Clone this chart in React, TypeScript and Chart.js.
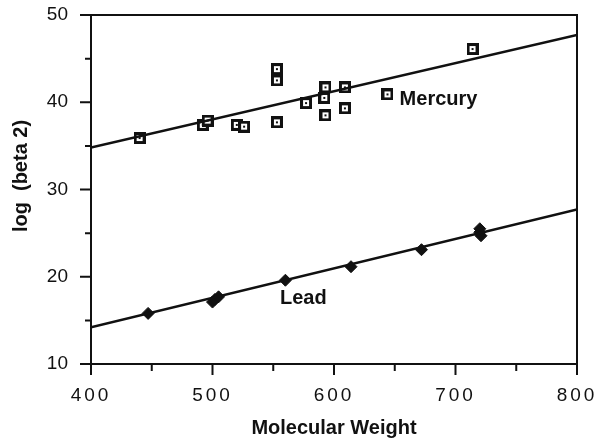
import { useEffect, useRef } from "react";
import { Chart, registerables, LinearScale } from "chart.js";

Chart.register(...registerables);

class SpacedLinearScale extends LinearScale {
  static id = "spacedLinear";
  static defaults = LinearScale.defaults;
  drawLabels(area: any) {
    const ctx: any = this.ctx;
    const prev = ctx.letterSpacing;
    ctx.letterSpacing = "3px";
    super.drawLabels(area);
    ctx.letterSpacing = prev || "0px";
  }
}
Chart.register(SpacedLinearScale as any);

// Mercury complexes
const mercuryMW = [440, 492, 496, 520, 526, 553, 553, 553, 577, 592, 593, 593, 609, 609, 644, 714];
const mercuryLogBeta2 = [35.9, 37.4, 37.9, 37.4, 37.2, 43.8, 42.5, 37.7, 39.9, 40.5, 41.7, 38.5, 41.7, 39.3, 40.9, 46.1];

// Lead complexes
const leadMW = [447, 500, 502, 505, 560, 614, 672, 720, 720, 721];
const leadLogBeta2 = [15.8, 17.1, 17.4, 17.7, 19.6, 21.15, 23.1, 25.5, 25.1, 24.7];

// Fitted lines (end points)
const fitMW = [400, 800];
const mercuryFit = [34.8, 47.7];
const leadFit = [14.2, 27.7];

// Axis ticks
const xMajorTicks = [400, 500, 600, 700, 800];
const xMinorTicks = [450, 550, 650, 750];
const yMajorTicks = [10, 20, 30, 40, 50];
const yMinorTicks = [15, 25, 35, 45];

// Texts
const xTitle = "Molecular Weight";
const yTitle = "log  (beta 2)";
const seriesLabels = [
  { text: "Mercury", x: 654, y: 40.3 },
  { text: "Lead", x: 555.5, y: 17.5 },
];

const FONT = "'Liberation Sans', Arial, Helvetica, sans-serif";
const INK = "#111";

function makeMercuryMarker(): HTMLCanvasElement {
  const c = document.createElement("canvas");
  c.width = 12;
  c.height = 12;
  const g = c.getContext("2d")!;
  g.fillStyle = INK;
  g.fillRect(0, 0, 12, 12);
  g.fillStyle = "#fff";
  g.fillRect(3, 3, 6, 6);
  g.fillStyle = INK;
  g.fillRect(5, 5, 2, 2);
  return c;
}

const framePlugin = {
  id: "frameAndTicks",
  beforeDatasetsDraw(chart: any) {
    const { ctx, chartArea } = chart;
    const xs = chart.scales.x;
    const ys = chart.scales.y;
    ctx.save();
    ctx.strokeStyle = INK;
    ctx.lineWidth = 2;
    ctx.strokeRect(chartArea.left, chartArea.top, chartArea.right - chartArea.left, chartArea.bottom - chartArea.top);
    ctx.beginPath();
    for (const v of xMajorTicks) {
      const px = xs.getPixelForValue(v);
      ctx.moveTo(px, chartArea.bottom);
      ctx.lineTo(px, chartArea.bottom + 11);
    }
    for (const v of xMinorTicks) {
      const px = xs.getPixelForValue(v);
      ctx.moveTo(px, chartArea.bottom);
      ctx.lineTo(px, chartArea.bottom + 7);
    }
    for (const v of yMajorTicks) {
      const py = ys.getPixelForValue(v);
      ctx.moveTo(chartArea.left, py);
      ctx.lineTo(chartArea.left - 11, py);
    }
    for (const v of yMinorTicks) {
      const py = ys.getPixelForValue(v);
      ctx.moveTo(chartArea.left, py);
      ctx.lineTo(chartArea.left - 6, py);
    }
    ctx.stroke();
    ctx.restore();
  },
  afterDatasetsDraw(chart: any) {
    const { ctx } = chart;
    const xs = chart.scales.x;
    const ys = chart.scales.y;
    ctx.save();
    ctx.fillStyle = INK;
    ctx.font = `bold 20px ${FONT}`;
    ctx.textAlign = "left";
    ctx.textBaseline = "middle";
    for (const l of seriesLabels) {
      ctx.fillText(l.text, xs.getPixelForValue(l.x), ys.getPixelForValue(l.y));
    }
    // y-axis title
    ctx.translate(21, 176);
    ctx.rotate(-Math.PI / 2);
    ctx.textAlign = "center";
    ctx.fillText(yTitle, 0, 0);
    ctx.restore();
  },
};

export default function App() {
  const canvasRef = useRef<HTMLCanvasElement | null>(null);

  useEffect(() => {
    document.body.style.margin = "0";
    const canvas = canvasRef.current;
    if (!canvas) return;
    const marker = makeMercuryMarker();
    const chart = new Chart(canvas, {
      type: "scatter",
      data: {
        datasets: [
          {
            label: "Mercury fit",
            type: "line",
            data: fitMW.map((x, i) => ({ x, y: mercuryFit[i] })),
            borderColor: INK,
            borderWidth: 2.5,
            pointRadius: 0,
            fill: false,
          },
          {
            label: "Lead fit",
            type: "line",
            data: fitMW.map((x, i) => ({ x, y: leadFit[i] })),
            borderColor: INK,
            borderWidth: 2.5,
            pointRadius: 0,
            fill: false,
          },
          {
            label: "Mercury",
            data: mercuryMW.map((x, i) => ({ x, y: mercuryLogBeta2[i] })),
            pointStyle: marker,
            pointRadius: 6,
          },
          {
            label: "Lead",
            data: leadMW.map((x, i) => ({ x, y: leadLogBeta2[i] })),
            pointStyle: "rectRot",
            pointRadius: 6,
            backgroundColor: INK,
            borderColor: INK,
            borderWidth: 1,
          },
        ],
      },
      options: {
        animation: false,
        responsive: true,
        maintainAspectRatio: false,
        layout: { padding: { top: 15, right: 22, left: 0, bottom: 0 } },
        plugins: {
          legend: { display: false },
          tooltip: { enabled: false },
        },
        scales: {
          x: {
            type: "spacedLinear" as any,
            min: 400,
            max: 800,
            afterBuildTicks: (s: any) => {
              s.ticks = xMajorTicks.map((v) => ({ value: v }));
            },
            afterFit: (s: any) => {
              s.height = 76;
              s.paddingLeft = 0;
              s.paddingRight = 0;
              s.paddingTop = 0;
              s.paddingBottom = 0;
            },
            grid: { display: false, drawTicks: false },
            border: { display: false },
            ticks: {
              color: INK,
              font: { family: FONT, size: 19 },
              padding: 20,
              maxRotation: 0,
            },
            title: {
              display: true,
              text: xTitle,
              color: INK,
              font: { family: FONT, size: 20, weight: "bold" },
              padding: { top: 0, bottom: 0 },
            },
          } as any,
          y: {
            type: "linear",
            min: 10,
            max: 50,
            afterBuildTicks: (s: any) => {
              s.ticks = yMajorTicks.map((v) => ({ value: v }));
            },
            afterFit: (s: any) => {
              s.width = 91;
              s.paddingLeft = 0;
              s.paddingRight = 0;
              s.paddingTop = 0;
              s.paddingBottom = 0;
            },
            grid: { display: false, drawTicks: false },
            border: { display: false },
            ticks: {
              color: INK,
              font: { family: FONT, size: 19 },
              padding: 23,
            },
          },
        },
      },
      plugins: [framePlugin],
    });
    return () => chart.destroy();
  }, []);

  return (
    <div style={{ width: 599, height: 440, position: "relative" }}>
      <canvas ref={canvasRef} />
    </div>
  );
}
